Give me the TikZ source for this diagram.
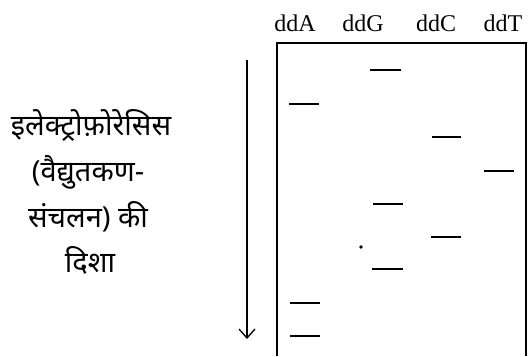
\documentclass[tikz,border=0pt]{standalone}
\usepackage{fontspec}
\setmainfont{Liberation Serif}
\newfontfamily\hindi[Script=Devanagari]{Noto Sans}
\usetikzlibrary{arrows.meta}
\begin{document}
\begin{tikzpicture}[x=1pt,y=-1pt,
  lane/.style={font=\fontsize{24}{28}\selectfont, anchor=base, inner sep=0pt},
  hin/.style={font=\hindi\fontsize{29}{32}\selectfont, anchor=base, inner sep=0pt},
  band/.style={line width=1.4pt},
  gel/.style={line width=2pt}]
\useasboundingbox (0,0) rectangle (529,356);
% labels
\node[lane] (lA) at (295,31) {ddA};
\node[lane] (lG) at (363,31) {ddG};
\node[lane] (lC) at (436,31) {ddC};
\node[lane] (lT) at (503,31) {ddT};
% gel outline (open at bottom)
\draw[gel] (277,356) -- (277,43) -- (526,43) -- (526,356);
% bands
\draw[band] (370,70) -- (401,70);
\draw[band] (289,104) -- (319,104);
\draw[band] (432,137) -- (461,137);
\draw[band] (484,171) -- (514,171);
\draw[band] (373,204) -- (403,204);
\draw[band] (431,237) -- (461,237);
\draw[band] (372,269) -- (403,269);
\draw[band] (290,303) -- (320,303);
\draw[band] (290,336) -- (320,336);
\fill (361,247) circle (1.8pt);
% direction arrow
\coordinate (a1) at (247,60);
\coordinate (a2) at (247,339);
\draw[line width=1.3pt, -{Straight Barb[length=9pt,width=16pt,line width=1.3pt]}] (a1) -- (a2);
% text
\node[hin] (t1) at (91,135) {इलेक्ट्रोफ़ोरेसिस};
\node[hin] (t2) at (88,181) {(वैद्युतकण-};
\node[hin] (t3) at (88,227) {संचलन) की};
\node[hin] (t4) at (90,272) {दिशा};
\end{tikzpicture}
\end{document}
